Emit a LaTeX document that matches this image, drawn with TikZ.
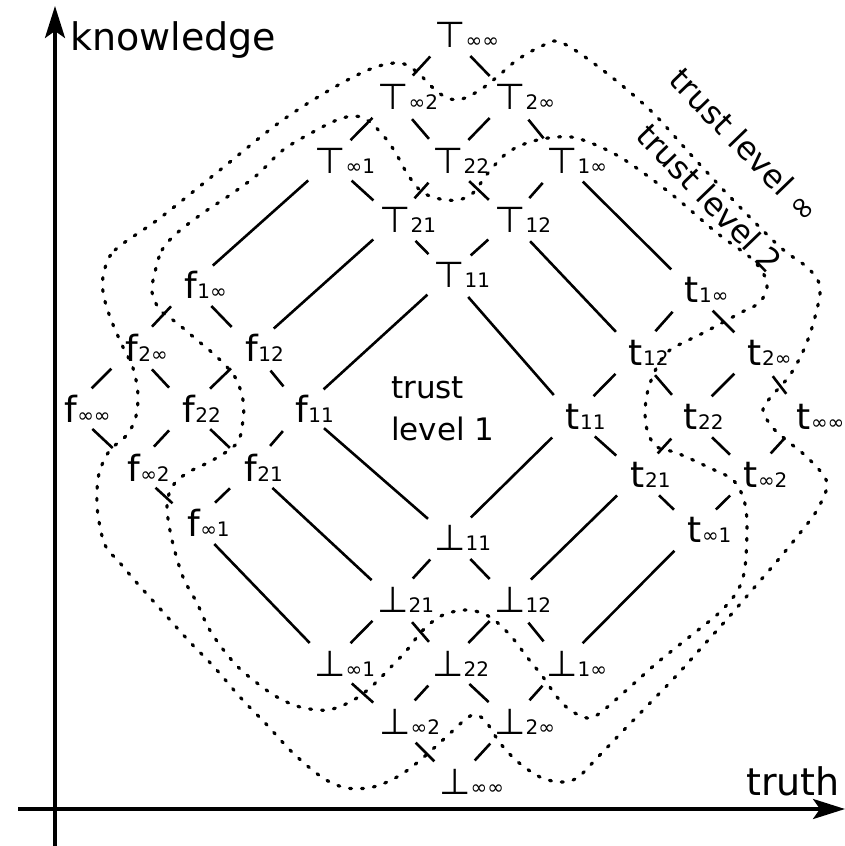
\documentclass[tikz,border=0pt]{standalone}
\usepackage{fontspec}
\setmainfont{DejaVu Sans}
\usetikzlibrary{arrows.meta}

% main symbol with its index pair set smaller on the same baseline
\newcommand\lbl[2]{#1\rlap{\smash{\fontsize{20}{20}\selectfont #2}}}

\begin{document}
\begin{tikzpicture}[x=1pt,y=-1pt,
  vtx/.style={circle,inner sep=0pt,minimum size=58pt,font=\fontsize{36}{36}\selectfont},
  edge/.style={line width=2.6pt},
  trustline/.style={line width=3.2pt,dash pattern=on 2pt off 10pt,line cap=round},
  axis/.style={line width=3.5pt,-{Stealth[length=32pt,width=20pt,inset=7pt]}},
  axislbl/.style={inner sep=0pt,anchor=base west,font=\fontsize{38}{38}\selectfont},
  trustlbl/.style={inner sep=0pt,font=\fontsize{32}{32}\selectfont}]
\useasboundingbox (0,0) rectangle (845,846);

% axes
\coordinate (kfoot) at (55,846);
\coordinate (ktip) at (55,6);
\coordinate (tfoot) at (18,809);
\coordinate (ttip) at (845,809);
\draw[axis] (kfoot) -- (ktip);
\draw[axis] (tfoot) -- (ttip);
\node[axislbl] (know) at (70,50) {knowledge};
\node[axislbl] (truth) at (746,795) {truth};

% top block
\node[vtx] (Tii) at (450,35)  {\lbl{⊤}{∞∞}};
\node[vtx] (Ti2) at (393,97)  {\lbl{⊤}{∞2}};
\node[vtx] (T2i) at (510,97)  {\lbl{⊤}{2∞}};
\node[vtx] (Ti1) at (330,161) {\lbl{⊤}{∞1}};
\node[vtx] (T22) at (448,161) {\lbl{⊤}{22}};
\node[vtx] (T1i) at (562,161) {\lbl{⊤}{1∞}};
\node[vtx] (T21) at (395,220) {\lbl{⊤}{21}};
\node[vtx] (T12) at (510,220) {\lbl{⊤}{12}};
\node[vtx] (T11) at (449,275) {\lbl{⊤}{11}};

% false block
\node[vtx] (f1i) at (191,285) {\lbl{f}{1∞}};
\node[vtx] (f2i) at (132,348) {\lbl{f}{2∞}};
\node[vtx] (f12) at (252,348) {\lbl{f}{12}};
\node[vtx] (fii) at (71,409)  {\lbl{f}{∞∞}};
\node[vtx] (f22) at (189,409) {\lbl{f}{22}};
\node[vtx] (f11) at (302,409) {\lbl{f}{11}};
\node[vtx] (fi2) at (134,468) {\lbl{f}{∞2}};
\node[vtx] (f21) at (251,468) {\lbl{f}{21}};
\node[vtx] (fi1) at (194,523) {\lbl{f}{∞1}};

% true block
\node[vtx] (t1i) at (692,290) {\lbl{t}{1∞}};
\node[vtx] (t12) at (636,353) {\lbl{t}{12}};
\node[vtx] (t2i) at (755,353) {\lbl{t}{2∞}};
\node[vtx] (t11) at (573,417) {\lbl{t}{11}};
\node[vtx] (t22) at (691,417) {\lbl{t}{22}};
\node[vtx] (tii) at (804,417) {\lbl{t}{∞∞}};
\node[vtx] (t21) at (638,475) {\lbl{t}{21}};
\node[vtx] (ti2) at (751,475) {\lbl{t}{∞2}};
\node[vtx] (ti1) at (695,530) {\lbl{t}{∞1}};

% bottom block
\node[vtx] (b11) at (450,538) {\lbl{⊥}{11}};
\node[vtx] (b21) at (393,600) {\lbl{⊥}{21}};
\node[vtx] (b12) at (510,600) {\lbl{⊥}{12}};
\node[vtx] (bi1) at (330,664) {\lbl{⊥}{∞1}};
\node[vtx] (b22) at (448,664) {\lbl{⊥}{22}};
\node[vtx] (b1i) at (562,664) {\lbl{⊥}{1∞}};
\node[vtx] (bi2) at (395,722) {\lbl{⊥}{∞2}};
\node[vtx] (b2i) at (510,722) {\lbl{⊥}{2∞}};
\node[vtx] (bii) at (455,782) {\lbl{⊥}{∞∞}};

% order edges inside each block
\foreach \a/\b in {Tii/Ti2,Tii/T2i,Ti2/Ti1,Ti2/T22,T2i/T22,T2i/T1i,Ti1/T21,T22/T21,T22/T12,T1i/T12,T21/T11,T12/T11,
  f1i/f2i,f1i/f12,f2i/fii,f2i/f22,f12/f22,f12/f11,fii/fi2,f22/fi2,f22/f21,f11/f21,fi2/fi1,f21/fi1,
  t1i/t12,t1i/t2i,t12/t11,t12/t22,t2i/t22,t2i/tii,t11/t21,t22/t21,t22/ti2,tii/ti2,t21/ti1,ti2/ti1,
  b11/b21,b11/b12,b21/bi1,b21/b22,b12/b22,b12/b1i,bi1/bi2,b22/bi2,b22/b2i,b1i/b2i,bi2/bii,b2i/bii}
  \draw[edge] (\a) -- (\b);

% order edges between blocks
\foreach \a/\b in {Ti1/f1i,T21/f12,T11/f11,T1i/t1i,T12/t12,T11/t11,
  fi1/bi1,f21/b21,f11/b11,ti1/b1i,t21/b12,t11/b11}
  \draw[edge] (\a) -- (\b);

% trust level boundaries
\draw[trustline] plot[smooth cycle,tension=0.55] coordinates {
  (104,272) (115,250) (160,218) (220,170) (280,122) (333,88) (373,68) (400,63)
  (417,72) (432,87) (447,98) (462,99) (480,90) (497,77) (517,60) (540,47) (560,42)
  (600,68) (650,110) (693,157) (733,200) (780,247) (808,268) (820,287) (815,317)
  (805,347) (790,375) (770,398) (763,410) (772,427) (790,443) (810,460) (827,483)
  (817,510) (800,533) (778,560) (753,589) (728,618) (702,647) (677,675) (650,703)
  (622,732) (597,758) (577,778) (560,782) (540,777) (518,762) (500,743) (487,723)
  (477,715) (467,718) (445,738) (418,762) (397,777) (373,787) (347,788) (323,778)
  (293,753) (267,725) (240,697) (215,668) (188,640) (163,612) (137,583) (120,563)
  (105,545) (98,515) (97,490) (100,470) (110,450) (125,437) (135,420) (138,395)
  (133,368) (122,345) (110,317) (103,292)};
\draw[trustline] plot[smooth cycle,tension=0.55] coordinates {
  (155,272) (162,250) (177,233) (203,213) (230,195) (257,175) (283,150) (313,132)
  (337,120) (355,116) (370,122) (387,140) (398,157) (408,175) (422,192) (440,199)
  (458,200) (473,193) (488,173) (507,153) (530,142) (557,137) (580,139) (620,157)
  (670,193) (717,233) (753,260) (767,283) (760,302) (740,313) (705,332) (670,350)
  (657,367) (648,390) (645,413) (648,433) (657,447) (677,453) (710,468) (733,480)
  (744,500) (747,525) (745,567) (738,590) (720,612) (688,638) (658,662) (630,687)
  (600,713) (587,718) (570,710) (557,697) (543,677) (527,657) (510,635) (490,617)
  (468,610) (443,615) (423,630) (407,650) (390,668) (370,688) (350,702) (327,710)
  (300,707) (277,697) (257,683) (238,667) (222,648) (208,627) (197,603) (183,577)
  (172,540) (167,507) (172,487) (187,473) (213,460) (237,443) (243,420) (243,400)
  (235,377) (217,357) (197,340) (177,323) (160,310) (152,292)};

% region names
\node[trustlbl,rotate=-46] (tlinf) at (745,145) {trust level ∞};
\node[trustlbl,rotate=-46] (tltwo) at (710,198) {trust level 2};
\node[inner sep=0pt,anchor=north west,align=left,font=\fontsize{31}{42}\selectfont]
  (tlone) at (391,377) {trust\\level 1};
\end{tikzpicture}
\end{document}
